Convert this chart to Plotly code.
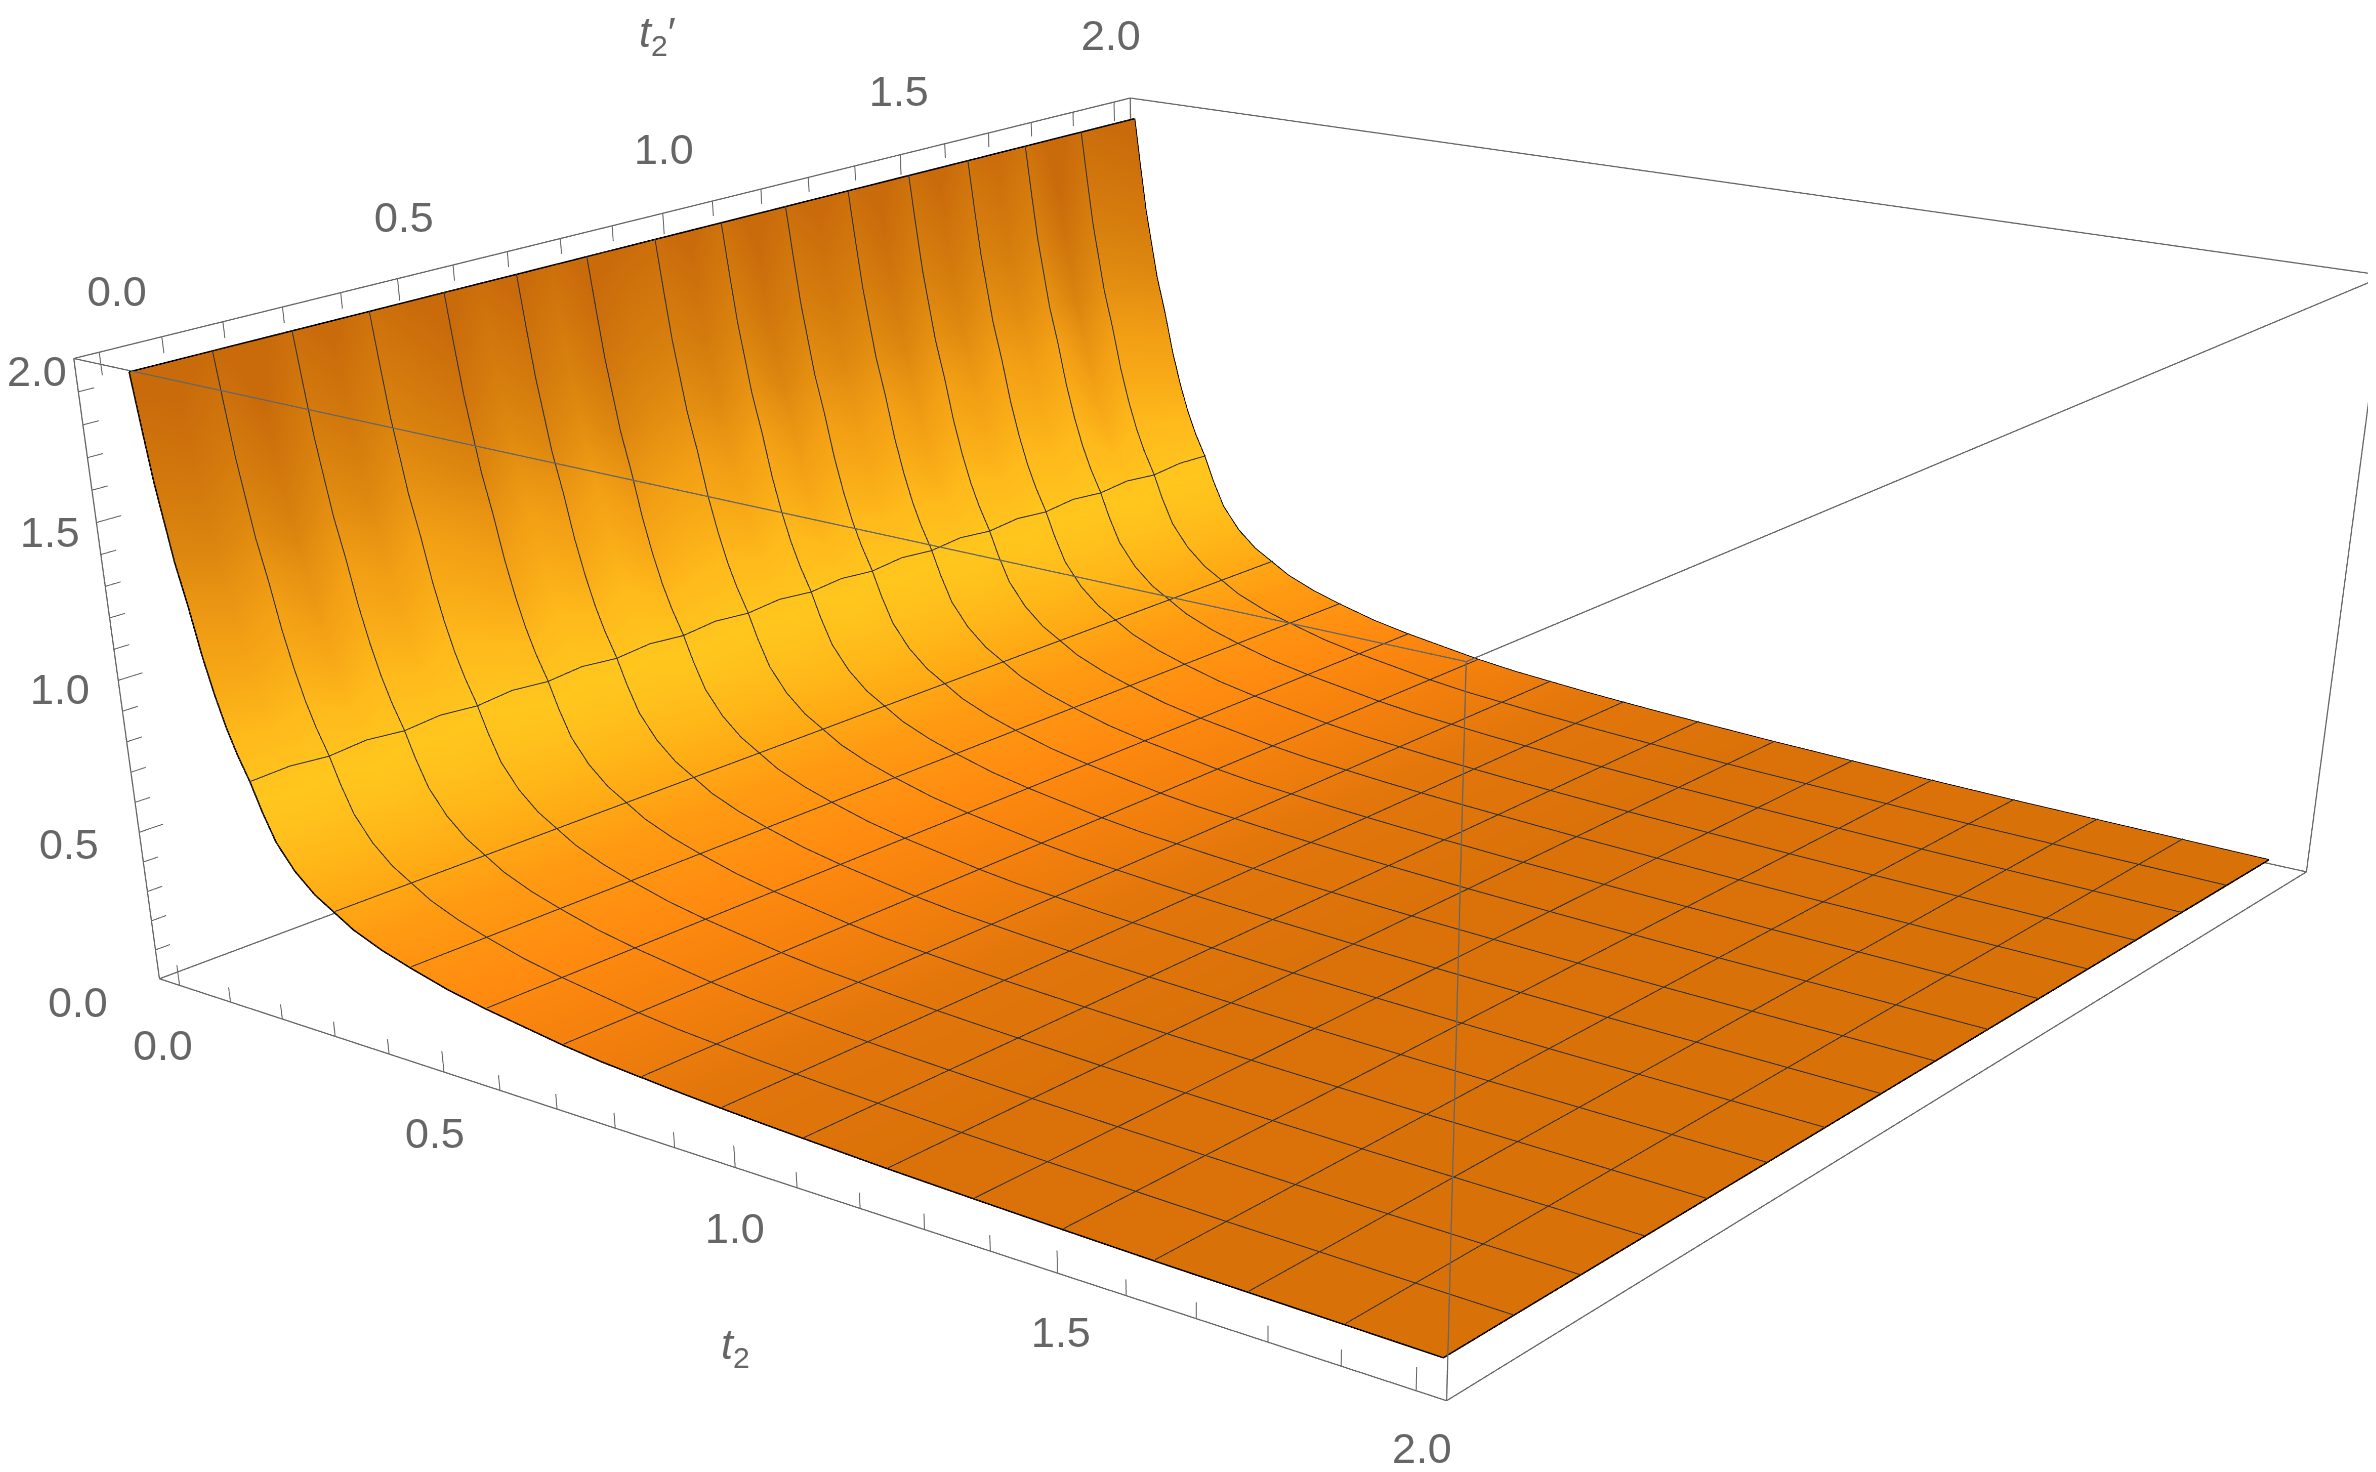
import numpy as np
import plotly.graph_objects as go

# values: height of the surface along t2 (hardly changes along t2')
t2 = [0.0, 0.01, 0.02, 0.03, 0.04, 0.055, 0.07, 0.085, 0.1, 0.115, 0.1333, 0.15, 0.17, 0.2, 0.2333,
      0.2667, 0.3, 0.35, 0.4, 0.4667, 0.5333, 0.6, 0.6667, 0.7333, 0.8, 0.8667, 0.9333, 1.0, 1.0667,
      1.2, 1.3333, 1.4667, 1.6, 1.7333, 1.8667, 2.0]
height = [1.95, 1.78, 1.62, 1.5, 1.38, 1.25, 1.1, 0.98, 0.88, 0.8, 0.72, 0.63, 0.54, 0.46, 0.4,
          0.36, 0.32, 0.28, 0.25, 0.215, 0.19, 0.17, 0.15, 0.135, 0.125, 0.115, 0.107, 0.1, 0.094,
          0.083, 0.075, 0.068, 0.062, 0.058, 0.054, 0.05]
t2p = [0.01, 0.0763, 0.1427, 0.209, 0.2753, 0.3417, 0.408, 0.4743, 0.5407, 0.607, 0.6733, 0.7397, 0.806,
       0.8723, 0.9387, 1.005, 1.0713, 1.1377, 1.204, 1.2703, 1.3367, 1.403, 1.4693, 1.5357, 1.602, 1.6683,
       1.7347, 1.801, 1.8673, 1.9337, 2.0]
# light streaks running down the steep part, shift along the colour table
streak = [0.0, -0.004, 0.004, -0.008, 0.008, 0.0, 0.012, 0.004, -0.004, 0.008, 0.0, 0.01, -0.004, 0.004, 0.008, 0.0,
          0.012, -0.004, 0.008, 0.0, 0.008, -0.004, 0.01, 0.0, 0.012, 0.004, 0.014, -0.008, 0.008, 0.004, 0.0]
streak_t2 = [0.0, 0.08, 0.2]
streak_amount = [1.0, 1.0, 0.0]

# mesh lines on the surface; the first one is slightly wavy in the picture
mesh_t2 = [0.1333, 0.2667, 0.4, 0.5333, 0.6667, 0.8, 0.9333, 1.0667, 1.2, 1.3333, 1.4667, 1.6, 1.7333, 1.8667]
mesh_t2p = t2p[2:-1:2]
wavy_line = [0.0, 0.006, -0.005, 0.006, -0.006, 0.005, -0.006, 0.006, -0.005, 0.006, -0.006, 0.005, -0.006, 0.006,
             -0.005, 0.006, -0.006, 0.005, -0.006, 0.006, -0.005, 0.006, -0.006, 0.005, -0.006, 0.006, -0.005, 0.006,
             -0.006, 0.005, 0.0]

# colour of the surface against t2
color_t2 = [0.0, 0.03, 0.06, 0.1, 0.14, 0.22, 0.32, 0.5, 0.7, 0.9, 1.2, 2.0]
color_hex = ['#c96b0b', '#dc850f', '#f3a015', '#ffba1b', '#ffc61e', '#ffb016', '#ff9a12', '#ff8a10',
             '#f27f0d', '#e2760b', '#da7209', '#d97109']

major_ticks = [0.0, 0.5, 1.0, 1.5, 2.0]
minor_ticks = [0.1, 0.2, 0.3, 0.4, 0.6, 0.7, 0.8, 0.9, 1.1, 1.2, 1.3, 1.4, 1.6, 1.7, 1.8, 1.9]

# pixel nudges of the tick labels, same order as major_ticks
x_label_dx = [-17, -9, 0, 3, 6]
x_label_dy = [-60, -61, -60, -59, -57]
y_label_dx = [18, 6, 1, -1, -3]
y_label_dy = [61, 62, 64, 64, 67]
z_label_dx = [-81, -70, -58, -46, -37]
z_label_dy = [-23, -12, -9, -9, -13]

# the box, and axis ranges a little wider so its edges are not clipped
x_lo, x_hi = -0.04, 2.04
y_lo, y_hi = -0.04, 2.04
z_lo, z_hi = 0.0, 2.0
pad = 0.01

box_color = '#666666'
text_color = '#666666'
mesh_color = '#333333'


def segment(p, q, width=2.5):
    return go.Scatter3d(x=[p[0], q[0]], y=[p[1], q[1]], z=[p[2], q[2]], mode='lines',
                        line=dict(color=box_color, width=width), hoverinfo='skip', showlegend=False)


Z = np.tile(np.array(height), (len(t2p), 1))
amount = np.interp(t2, streak_t2, streak_amount)
C = np.clip(np.array(t2) + np.outer(streak, amount), 0, 2)

fig = go.Figure()
fig.add_trace(go.Surface(
    x=t2, y=t2p, z=Z, surfacecolor=C, cmin=0, cmax=2,
    colorscale=[[t / 2, c] for t, c in zip(color_t2, color_hex)],
    showscale=False, hoverinfo='skip',
    lighting=dict(ambient=1, diffuse=0, specular=0, fresnel=0, roughness=1),
))

# mesh, lifted a hair off the surface so it is not hidden
for v in mesh_t2:
    h = float(np.interp(v, t2, height))
    wave = wavy_line if v == mesh_t2[0] else [0.0] * len(t2p)
    fig.add_trace(go.Scatter3d(x=[v + 0.002] * len(t2p), y=t2p, z=[h + 0.004 + w for w in wave], mode='lines',
                               line=dict(color=mesh_color, width=2), hoverinfo='skip', showlegend=False))
for v in mesh_t2p:
    fig.add_trace(go.Scatter3d(x=[t + 0.002 for t in t2], y=[v] * len(t2), z=[h + 0.004 for h in height], mode='lines',
                               line=dict(color=mesh_color, width=2), hoverinfo='skip', showlegend=False))

# black outline of the surface
edge_x = t2 + [t2[-1]] * len(t2p) + t2[::-1] + [t2[0]] * len(t2p)
edge_y = [t2p[0]] * len(t2) + t2p + [t2p[-1]] * len(t2) + t2p[::-1]
edge_z = height + [height[-1]] * len(t2p) + height[::-1] + [height[0]] * len(t2p)
fig.add_trace(go.Scatter3d(x=edge_x, y=edge_y, z=edge_z, mode='lines', line=dict(color='black', width=3),
                           hoverinfo='skip', showlegend=False))

# bounding box
corners = [(a, b, c) for a in (x_lo, x_hi) for b in (y_lo, y_hi) for c in (z_lo, z_hi)]
for i, p in enumerate(corners):
    for q in corners[i + 1:]:
        if sum(u != v for u, v in zip(p, q)) == 1:
            fig.add_trace(segment(p, q))

# ticks point into the box
for vals, dx, dy, dz in ((minor_ticks, 0.05, 0.025, 0.05), (major_ticks, 0.07, 0.04, 0.07)):
    for v in vals:
        fig.add_trace(segment((v, y_lo, z_lo), (v, y_lo, z_lo + dx), 2))
        fig.add_trace(segment((x_lo, v, z_hi), (x_lo, v, z_hi - dz), 2))
        fig.add_trace(segment((x_lo, y_lo, v), (x_lo, y_lo + dy, v), 2))

font = dict(family='Liberation Sans', size=43, color=text_color)
notes = []
for i, v in enumerate(major_ticks):
    label = f'{v:.1f}'
    notes.append(dict(x=v, y=y_lo, z=z_lo, text=label, showarrow=False, xshift=x_label_dx[i], yshift=x_label_dy[i], font=font))
    notes.append(dict(x=x_lo, y=v, z=z_hi, text=label, showarrow=False, xshift=y_label_dx[i], yshift=y_label_dy[i], font=font))
    notes.append(dict(x=x_lo, y=y_lo, z=v, text=label, showarrow=False, xshift=z_label_dx[i], yshift=z_label_dy[i], font=font))
notes.append(dict(x=1.0, y=y_lo, z=z_lo, text='<i>t</i><sub>2</sub>', showarrow=False, yshift=-179, font=font))
notes.append(dict(x=x_lo, y=1.0, z=z_hi, text='<i>t</i><sub>2</sub>′', showarrow=False, yshift=178, xshift=-5, font=font))

# page taller than the window: the 45 degree view of a plotly scene needs it to get the flat perspective
span = (x_hi - x_lo + 2 * pad) / (x_hi - x_lo)
fig.update_layout(
    width=2360, height=3600,
    margin=dict(l=0, r=0, t=0, b=0),
    paper_bgcolor='white',
    showlegend=False,
    scene=dict(
        domain=dict(x=[0, 1], y=[0, 1]),
        aspectmode='manual',
        aspectratio=dict(x=span, y=0.9979 * span, z=0.3847 * (z_hi - z_lo + 2 * pad) / (z_hi - z_lo)),
        camera=dict(eye=dict(x=1.6425, y=-2.165, z=0.804),
                    center=dict(x=0.2, y=-0.3367, z=-0.6303),
                    up=dict(x=-0.318, y=0.417, z=0.8514)),
        xaxis=dict(range=[x_lo - pad, x_hi + pad], visible=False),
        yaxis=dict(range=[y_lo - pad, y_hi + pad], visible=False),
        zaxis=dict(range=[z_lo - pad, z_hi + pad], visible=False),
        annotations=notes,
    ),
)

fig.write_html("out.html")
